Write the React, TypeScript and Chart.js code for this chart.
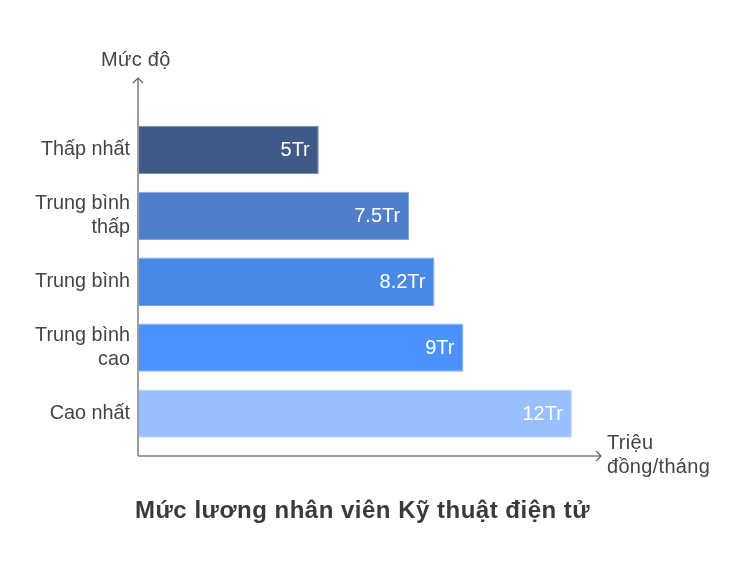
import React, { useEffect, useRef } from "react";
import { Chart, registerables } from "chart.js";

Chart.register(...registerables);

const levels: string[][] = [
  ["Thấp nhất"],
  ["Trung bình", "thấp"],
  ["Trung bình"],
  ["Trung bình", "cao"],
  ["Cao nhất"],
];
const salaries: number[] = [5, 7.5, 8.2, 9, 12];
const valueLabels: string[] = ["5Tr", "7.5Tr", "8.2Tr", "9Tr", "12Tr"];
const barColors: string[] = ["#3F5A88", "#4F7FCB", "#4A88E6", "#4D91FE", "#99BFFD"];
const barBorders: string[] = ["#7A92BA", "#7FA2DC", "#7DA8EE", "#80B0FE", "#BBD4FE"];

const chartTitle = "Mức lương nhân viên Kỹ thuật điện tử";
const yAxisTitle = "Mức độ";
const xAxisTitle: string[] = ["Triệu", "đồng/tháng"];
const xMax = 12.75;

const FONT = '"Liberation Sans", Arial, Helvetica, sans-serif';
const TEXT = "#444444";

const decorPlugin = {
  id: "decor",
  afterDatasetsDraw(chart: any) {
    const { ctx, chartArea } = chart;
    const { left, right, top, bottom } = chartArea;

    // value labels inside the bar ends
    const meta = chart.getDatasetMeta(0);
    ctx.save();
    ctx.fillStyle = "#ffffff";
    ctx.font = `20px ${FONT}`;
    ctx.textAlign = "right";
    ctx.textBaseline = "middle";
    meta.data.forEach((bar: any, i: number) => {
      ctx.fillText(valueLabels[i], bar.x - 9, bar.y + 1);
    });
    ctx.restore();

    // axes with arrowheads
    const axisY = bottom + 9.5;
    const axisTop = top - 39;
    const axisRight = right + 2;
    ctx.save();
    ctx.strokeStyle = "#9c9c9c";
    ctx.lineWidth = 2;
    ctx.beginPath();
    ctx.moveTo(left, axisY);
    ctx.lineTo(left, axisTop);
    ctx.moveTo(left, axisY);
    ctx.lineTo(axisRight, axisY);
    ctx.stroke();
    ctx.strokeStyle = "#606060";
    ctx.lineWidth = 1.2;
    ctx.beginPath();
    ctx.moveTo(left - 5, axisTop + 5);
    ctx.lineTo(left, axisTop);
    ctx.lineTo(left + 5, axisTop + 5);
    ctx.moveTo(axisRight - 5, axisY - 5);
    ctx.lineTo(axisRight, axisY);
    ctx.lineTo(axisRight - 5, axisY + 5);
    ctx.stroke();
    ctx.restore();

    // axis titles and chart title
    ctx.save();
    ctx.fillStyle = TEXT;
    ctx.font = `20px ${FONT}`;
    ctx.textAlign = "left";
    ctx.textBaseline = "middle";
    (ctx as any).letterSpacing = "0.3px";
    ctx.fillText(yAxisTitle, 93, 52);
    xAxisTitle.forEach((line, i) => {
      ctx.fillText(line, axisRight + 6, axisY - 13 + i * 24);
    });
    ctx.font = `bold 24px ${FONT}`;
    (ctx as any).letterSpacing = "0.5px";
    ctx.fillStyle = "#3a3a3a";
    ctx.textAlign = "left";
    ctx.fillText(chartTitle, 127, 503);
    ctx.restore();
  },
};

export default function App() {
  const canvasRef = useRef<HTMLCanvasElement | null>(null);

  useEffect(() => {
    if (!canvasRef.current) return;
    const chart = new Chart(canvasRef.current, {
      type: "bar",
      data: {
        labels: levels,
        datasets: [
          {
            data: salaries,
            backgroundColor: barColors,
            borderColor: barBorders,
            borderWidth: 1,
            borderSkipped: false,
            categoryPercentage: 1,
            barPercentage: 0.733,
          },
        ],
      },
      options: {
        indexAxis: "y",
        responsive: false,
        animation: false,
        layout: { padding: { top: 109, right: 131, bottom: 109.5, left: 0 } },
        plugins: {
          legend: { display: false },
          tooltip: { enabled: false },
          title: { display: false },
        },
        scales: {
          x: {
            display: false,
            min: 0,
            max: xMax,
          },
          y: {
            type: "category",
            grid: { display: false, drawTicks: false },
            border: { display: false },
            ticks: {
              color: TEXT,
              padding: 8,
              font: { family: FONT, size: 19.8, lineHeight: 1.2 },
            },
            afterFit(scale: any) {
              scale.width = 130;
            },
          },
        },
      },
      plugins: [decorPlugin],
    });
    return () => chart.destroy();
  }, []);

  return (
    <canvas
      ref={canvasRef}
      width={722}
      height={548}
      style={{ display: "block", width: 722, height: 548 }}
    />
  );
}
